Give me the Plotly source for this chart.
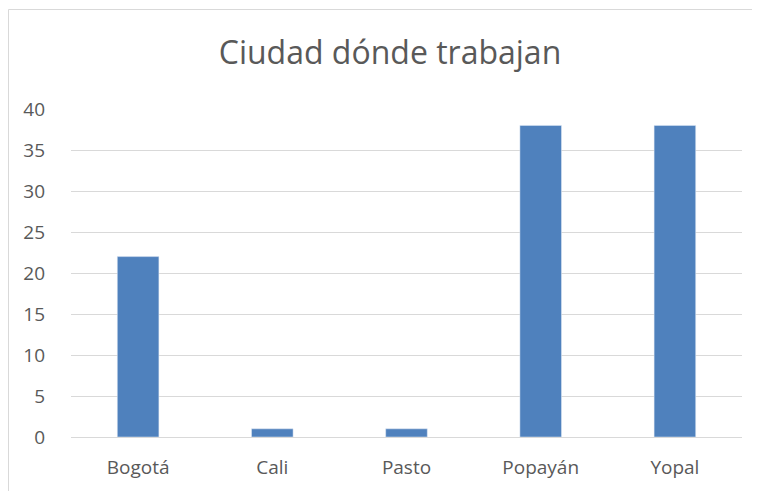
import plotly.graph_objects as go

categories = ["Bogotá", "Cali", "Pasto", "Popayán", "Yopal"]
values = [22, 1, 1, 38, 38]
y_ticks = [0, 5, 10, 15, 20, 25, 30, 35, 40]
title_text = "Ciudad dónde trabajan"

W, H = 752, 483
L, R, T, B = 63, 18, 101, 54
pw, ph = W - L - R, H - T - B

fig = go.Figure(go.Bar(x=categories, y=values, marker_color="#4f81bd", width=0.31))

fig.update_layout(
    width=W, height=H,
    margin=dict(l=L, r=R, t=T, b=B, autoexpand=False),
    paper_bgcolor="white", plot_bgcolor="white",
    font=dict(family="Open Sans, sans-serif", color="#595959", size=15),
    title=dict(text=title_text, x=382 / W, xanchor="center", y=1 - 45 / H, yanchor="middle",
               font=dict(size=32, color="#595959")),
    showlegend=False,
)
fig.update_yaxes(range=[0, 40], tickvals=y_ticks, showgrid=True, gridcolor="#d9d9d9",
                 gridwidth=1, zeroline=False, showline=False, ticklabelstandoff=25,
                 tickfont=dict(size=19), automargin=False)
fig.update_xaxes(showline=True, linecolor="#d9d9d9", linewidth=1, showgrid=False,
                 ticklabelstandoff=13, tickfont=dict(size=19), automargin=False)

fig.add_shape(type="rect", xref="paper", yref="paper",
              x0=(0.5 - L) / pw, x1=(W + 40 - L) / pw,
              y0=-(B + 40) / ph, y1=(H - B - 1.5) / ph,
              line=dict(color="#d9d9d9", width=1), fillcolor="rgba(0,0,0,0)", layer="below")

fig.write_html("out.html")
